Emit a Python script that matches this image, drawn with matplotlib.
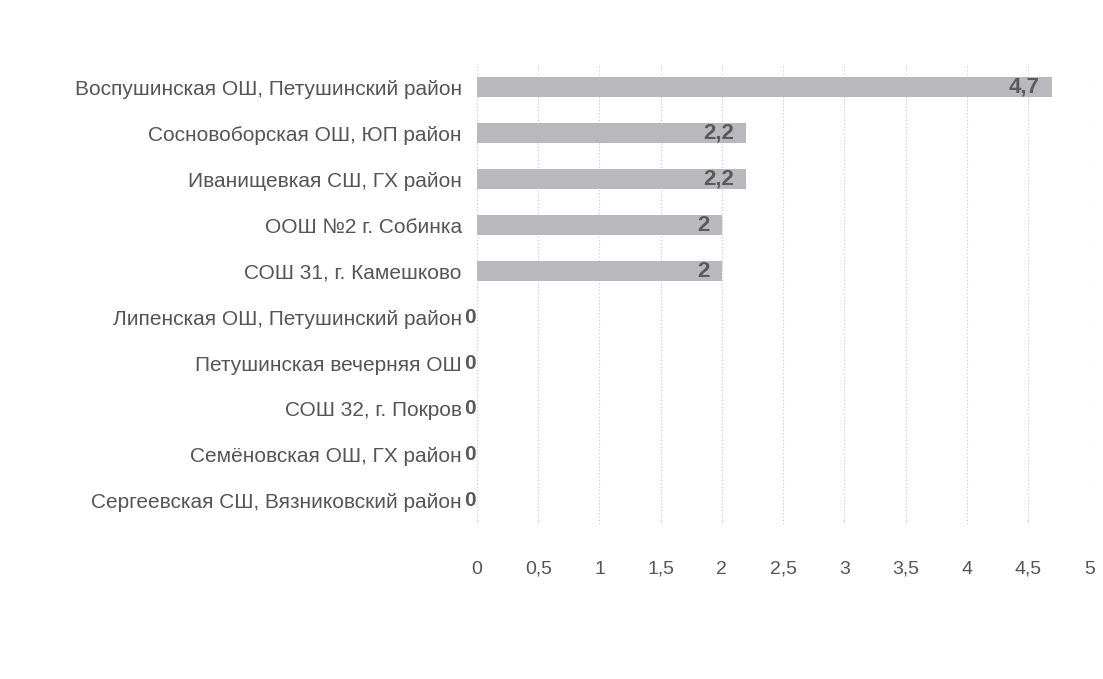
import numpy as np
import matplotlib
matplotlib.use("Agg")
import matplotlib.pyplot as plt

plt.rcParams['font.family'] = ['Liberation Sans', 'DejaVu Sans']

schools = [
    "Воспушинская ОШ, Петушинский район",
    "Сосновоборская ОШ, ЮП район",
    "Иванищевкая СШ, ГХ район",
    "ООШ №2 г. Собинка",
    "СОШ 31, г. Камешково",
    "Липенская ОШ, Петушинский район",
    "Петушинская вечерняя ОШ",
    "СОШ 32, г. Покров",
    "Семёновская ОШ, ГХ район",
    "Сергеевская СШ, Вязниковский район",
]
values = [4.7, 2.2, 2.2, 2.0, 2.0, 0, 0, 0, 0, 0]
x_ticks = [0, 0.5, 1, 1.5, 2, 2.5, 3, 3.5, 4, 4.5, 5]

fig = plt.figure(figsize=(11.03, 6.79), dpi=100)
ax = fig.add_axes([0.4325, 0.2283, 0.555, 0.6774])

y = np.arange(len(schools))
ax.barh(y, values, height=0.42, color="#b9b9bd", zorder=2)
ax.set_ylim(len(schools) - 0.5, -0.5)
ax.set_xlim(0, 5)

ax.set_xticks(x_ticks)
ax.set_xticklabels([f"{t:g}".replace(".", ",") for t in x_ticks])
ax.set_yticks(y)
ax.set_yticklabels(schools)
ax.tick_params(axis='x', length=0, pad=36, labelsize=14, labelcolor="#555555")
ax.tick_params(axis='y', length=0, pad=11, labelsize=15, labelcolor="#555555")
for lab in ax.get_xticklabels():
    lab.set_verticalalignment('baseline')

ax.grid(axis='x', color="#c8c8c8", linestyle=(0, (1, 2)), linewidth=0.8, zorder=0)
for s in ax.spines.values():
    s.set_visible(False)

for yi, v in zip(y, values):
    txt = f"{v:g}".replace(".", ",")
    if v > 0:
        ax.annotate(txt, (v, yi), xytext=(-9, 0), textcoords="offset points",
                    ha="right", va="center", fontsize=16, fontweight="bold",
                    color="#5a5a5e", zorder=3)
    else:
        ax.annotate(txt, (0, yi), xytext=(-5, 0), textcoords="offset points",
                    ha="center", va="center", fontsize=15, fontweight="bold",
                    color="#5a5a5e", zorder=3)

fig.savefig("out.png", dpi=100, facecolor="white")
